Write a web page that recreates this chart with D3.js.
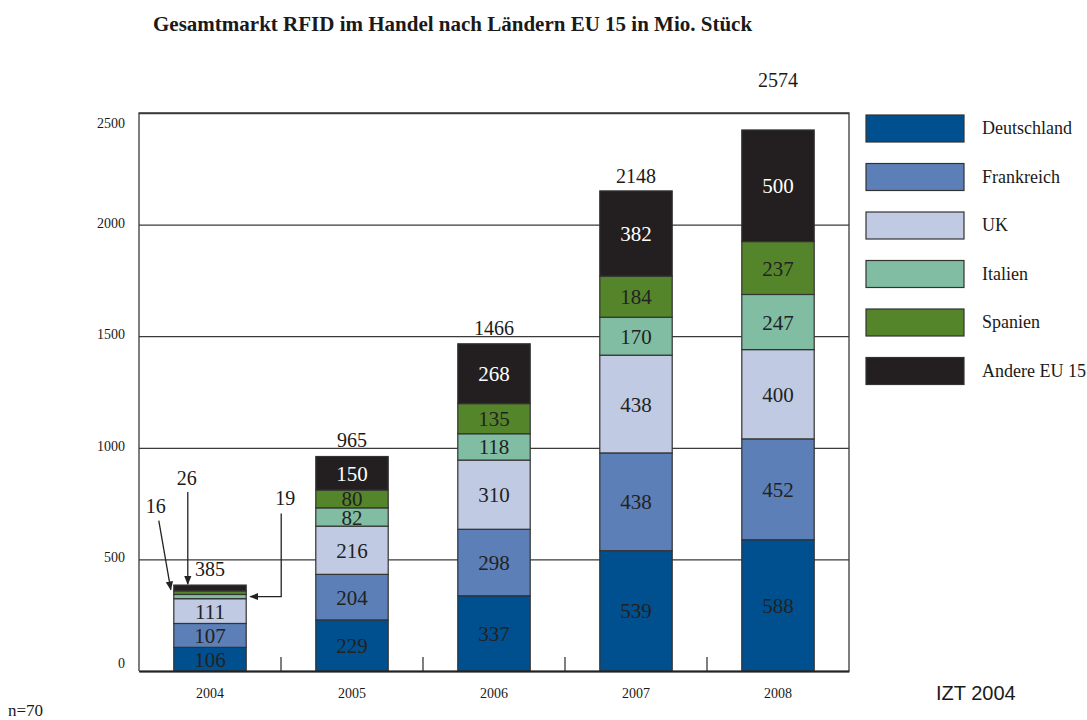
<!DOCTYPE html>
<html>
<head>
<meta charset="utf-8">
<script src="https://cdn.jsdelivr.net/npm/d3@7"></script>
<style>
  body { margin: 0; background: #fff; }
  svg { display: block; font-family: "Liberation Serif", "Times New Roman", serif; }
</style>
</head>
<body>
<div id="chart"></div>
<script>
// data (Mio. Stück)
var years = ["2004", "2005", "2006", "2007", "2008"];
var keys = ["Deutschland", "Frankreich", "UK", "Italien", "Spanien", "Andere EU 15"];
var deutschland = [106, 229, 337, 539, 588];
var frankreich = [107, 204, 298, 438, 452];
var uk = [111, 216, 310, 438, 400];
var italien = [19, 82, 118, 170, 247];
var spanien = [16, 80, 135, 184, 237];
var andere = [26, 150, 268, 382, 500];
var totals = [385, 965, 1466, 2148, 2574];
var yTicks = [0, 500, 1000, 1500, 2000, 2500];

var colors = ["#00508f", "#5b7fb6", "#c0cae3", "#80bda2", "#55852a", "#231f20"];

var width = 1087,
    height = 720;
var plotLeft = 139, plotRight = 849, plotTop = 113, plotBottom = 671;

var rows = years.map(function (y, i) {
  return {
    year: y,
    "Deutschland": deutschland[i],
    "Frankreich": frankreich[i],
    "UK": uk[i],
    "Italien": italien[i],
    "Spanien": spanien[i],
    "Andere EU 15": andere[i]
  };
});

var svg = d3.select("#chart").append("svg")
    .attr("width", width)
    .attr("height", height);

var x = d3.scaleBand()
    .domain(years)
    .range([plotLeft, plotRight])
    .paddingInner(0.49)
    .paddingOuter(0.245);

var y = d3.scaleLinear()
    .domain([0, 2500])
    .range([plotBottom, plotTop]);

var color = d3.scaleOrdinal().domain(keys).range(colors);

// title
svg.append("text")
    .attr("x", 153)
    .attr("y", 31)
    .style("font-size", "21px")
    .style("font-weight", "bold")
    .attr("fill", "#1a1a1a")
    .text("Gesamtmarkt RFID im Handel nach Ländern EU 15 in Mio. Stück");

// gridlines + y labels
var yAxis = svg.append("g")
    .attr("transform", "translate(" + plotLeft + ",0)")
    .call(d3.axisLeft(y)
        .tickValues(yTicks)
        .tickFormat(d3.format("d"))
        .tickSize(-(plotRight - plotLeft))
        .tickPadding(14));
yAxis.select(".domain").remove();
yAxis.selectAll(".tick line").attr("stroke", "#3a3a3a").attr("stroke-width", 1.3);
yAxis.selectAll(".tick text")
    .attr("fill", "#1a1a1a")
    .attr("y", function (d) { return d === 2500 ? 10 : (d === 0 ? -8 : -2); })
    .style("font-size", "14px")
    .style("font-family", "Liberation Serif, serif");

// frame
svg.append("path")
    .attr("d", "M" + plotLeft + "," + plotBottom + "V" + plotTop + "H" + plotRight + "V" + plotBottom)
    .attr("fill", "none")
    .attr("stroke", "#3a3a3a")
    .attr("stroke-width", 1.3);

// small ticks between the bars
var gap = (x.step() - x.bandwidth()) / 2;
svg.append("g").selectAll("line")
    .data(years.slice(1))
    .enter().append("line")
    .attr("x1", function (d) { return x(d) - gap; })
    .attr("x2", function (d) { return x(d) - gap; })
    .attr("y1", plotBottom)
    .attr("y2", plotBottom - 14)
    .attr("stroke", "#3a3a3a")
    .attr("stroke-width", 1.3);

// stacked bars
var series = d3.stack().keys(keys)(rows);

var layer = svg.append("g").selectAll("g")
    .data(series)
    .enter().append("g")
    .attr("fill", function (d) { return color(d.key); });

layer.selectAll("rect")
    .data(function (d) { return d.map(function (p) { p.key = d.key; return p; }); })
    .enter().append("rect")
    .attr("x", function (d) { return x(d.data.year); })
    .attr("y", function (d) { return y(d[1]); })
    .attr("width", x.bandwidth())
    .attr("height", function (d) { return y(d[0]) - y(d[1]); })
    .attr("stroke", "#333")
    .attr("stroke-width", 1.2);

layer.selectAll("text")
    .data(function (d) { return d.filter(function (p) { return p[1] - p[0] >= 50; }); })
    .enter().append("text")
    .attr("x", function (d) { return x(d.data.year) + x.bandwidth() / 2; })
    .attr("y", function (d) { return (y(d[0]) + y(d[1])) / 2; })
    .attr("dy", "0.36em")
    .attr("text-anchor", "middle")
    .style("font-size", "21px")
    .attr("fill", function (d) { return d.key === "Andere EU 15" ? "#fff" : "#222"; })
    .text(function (d) { return d[1] - d[0]; });

// totals above bars
svg.append("g").selectAll("text")
    .data(totals)
    .enter().append("text")
    .attr("x", function (d, i) { return x(years[i]) + x.bandwidth() / 2; })
    .attr("y", function (d) { return y(d) - 9; })
    .attr("text-anchor", "middle")
    .style("font-size", "20px")
    .attr("fill", "#1a1a1a")
    .text(function (d) { return d; });

// x axis
var xAxis = svg.append("g")
    .attr("transform", "translate(0," + plotBottom + ")")
    .call(d3.axisBottom(x).tickSize(0).tickPadding(17));
xAxis.select(".domain").attr("stroke", "#222").attr("stroke-width", 2.2);
xAxis.selectAll(".tick text")
    .attr("fill", "#1a1a1a")
    .style("font-size", "14px")
    .style("font-family", "Liberation Serif, serif");

// callouts for the small 2004 segments
var defs = svg.append("defs");
defs.append("marker")
    .attr("id", "arrow")
    .attr("viewBox", "0 0 10 10")
    .attr("refX", 9).attr("refY", 5)
    .attr("markerWidth", 7).attr("markerHeight", 7)
    .attr("orient", "auto")
    .append("path")
    .attr("d", "M0,1L10,5L0,9Z")
    .attr("fill", "#222");

var bx = x(years[0]), bw = x.bandwidth();
function mid(k) { var s = series[keys.indexOf(k)][0]; return y((s[0] + s[1]) / 2); }
function topOf(k) { return y(series[keys.indexOf(k)][0][1]); }

var ann = svg.append("g").attr("fill", "none").attr("stroke", "#222").attr("stroke-width", 1.3);

// 26 -> Andere EU 15
ann.append("line")
    .attr("x1", bx + 14).attr("y1", topOf("Andere EU 15") - 93)
    .attr("x2", bx + 14).attr("y2", topOf("Andere EU 15") - 1)
    .attr("marker-end", "url(#arrow)");
// 16 -> Spanien
ann.append("line")
    .attr("x1", bx - 15).attr("y1", mid("Spanien") - 72)
    .attr("x2", bx - 3).attr("y2", mid("Spanien") - 3)
    .attr("marker-end", "url(#arrow)");
// 19 -> Italien
ann.append("path")
    .attr("d", "M" + (bx + bw + 35) + "," + (mid("Italien") - 83) +
        "V" + mid("Italien") + "H" + (bx + bw + 4))
    .attr("marker-end", "url(#arrow)");

var annText = [
  { v: andere[0], dx: 13, y: topOf("Andere EU 15") - 100 },
  { v: spanien[0], dx: -18, y: mid("Spanien") - 80 },
  { v: italien[0], dx: bw + 39, y: mid("Italien") - 92 }
];
svg.append("g").selectAll("text")
    .data(annText)
    .enter().append("text")
    .attr("x", function (d) { return bx + d.dx; })
    .attr("y", function (d) { return d.y; })
    .attr("text-anchor", "middle")
    .style("font-size", "20px")
    .attr("fill", "#1a1a1a")
    .text(function (d) { return d.v; });

// legend
var legend = svg.append("g").selectAll("g")
    .data(keys)
    .enter().append("g")
    .attr("transform", function (d, i) { return "translate(866," + (115 + i * 48.5) + ")"; });
legend.append("rect")
    .attr("width", 98)
    .attr("height", 27)
    .attr("fill", function (d) { return color(d); })
    .attr("stroke", "#333")
    .attr("stroke-width", 1.2);
legend.append("text")
    .attr("x", 116)
    .attr("y", 13)
    .attr("dy", "0.35em")
    .style("font-size", "18px")
    .attr("fill", "#1a1a1a")
    .text(function (d) { return d; });

// footer
svg.append("text")
    .attr("x", 936)
    .attr("y", 700)
    .style("font-family", "Liberation Sans, Arial, sans-serif")
    .style("font-size", "20px")
    .attr("fill", "#1a1a1a")
    .text("IZT 2004");
svg.append("text")
    .attr("x", 8)
    .attr("y", 716)
    .style("font-size", "17px")
    .attr("fill", "#1a1a1a")
    .text("n=70");
</script>
</body>
</html>
